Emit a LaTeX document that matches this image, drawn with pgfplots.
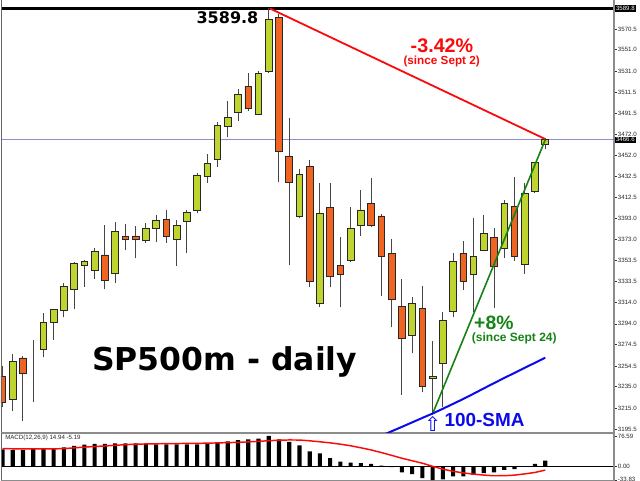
\documentclass[border=0pt]{standalone}
\usepackage{fontspec}
\setmainfont{Liberation Sans}
\newfontfamily\dejavu{DejaVu Sans}
\usepackage{pgfplots}
\usepackage{pgfplotstable}
\pgfplotsset{compat=1.18}

\definecolor{bull}{RGB}{192,212,48}
\definecolor{bear}{RGB}{238,100,32}
\definecolor{edge}{RGB}{40,40,40}
\definecolor{wick}{RGB}{70,70,70}
\definecolor{bidline}{RGB}{140,140,210}
\definecolor{frame}{RGB}{140,140,140}
\definecolor{upred}{RGB}{250,10,10}
\definecolor{upgreen}{RGB}{20,130,20}
\definecolor{smablue}{RGB}{10,10,235}

% daily candles: index, open, high, low, close
\pgfplotstableread{
i o h l c
0 3244.5 3254.8 3216.3 3220.5
1 3223.3 3265.5 3212.6 3258.9
2 3262.0 3263.9 3203.2 3247.7
3 3272.5 3278.9 3221.0 3272.5
4 3270.2 3303.9 3262.7 3295.1
5 3295.1 3308.4 3278.9 3307.9
6 3307.0 3332.0 3300.2 3328.9
7 3326.7 3352.0 3308.2 3350.8
8 3348.9 3353.9 3328.9 3352.3
9 3343.9 3365.4 3336.4 3362.3
10 3358.6 3386.7 3326.4 3334.9
11 3341.4 3389.2 3332.6 3380.4
12 3376.1 3387.7 3363.3 3373.6
13 3376.4 3385.8 3355.5 3373.3
14 3372.0 3388.9 3370.1 3383.9
15 3383.4 3396.1 3370.5 3390.8
16 3392.3 3400.5 3370.1 3376.1
17 3373.6 3391.4 3348.5 3386.4
18 3390.2 3400.8 3360.7 3398.6
19 3400.8 3435.2 3397.7 3433.6
20 3432.0 3453.3 3426.4 3444.6
21 3448.3 3483.3 3441.4 3480.2
22 3478.9 3503.0 3468.9 3487.3
23 3492.4 3514.0 3484.5 3509.3
24 3516.8 3529.0 3493.9 3495.8
25 3490.5 3531.1 3489.5 3529.0
26 3530.8 3589.8 3529.5 3579.9
27 3581.5 3584.6 3427.3 3456.1
28 3450.8 3486.8 3349.2 3426.4
29 3394.5 3438.9 3393.0 3434.5
30 3442.0 3448.1 3328.9 3333.7
31 3313.3 3425.8 3310.1 3397.7
32 3403.3 3425.8 3328.3 3338.9
33 3348.9 3375.7 3309.5 3340.5
34 3353.9 3403.9 3352.0 3383.9
35 3386.7 3419.5 3376.4 3400.8
36 3407.1 3430.5 3384.6 3386.7
37 3395.2 3397.0 3320.1 3357.4
38 3360.2 3373.3 3290.8 3317.0
39 3310.1 3335.8 3227.3 3280.1
40 3283.3 3319.5 3266.4 3313.3
41 3308.2 3329.5 3230.4 3235.1
42 3243.0 3277.9 3209.0 3244.8
43 3257.0 3305.4 3216.3 3297.0
44 3305.6 3360.7 3300.7 3352.7
45 3360.2 3372.0 3325.8 3333.5
46 3340.5 3393.0 3305.1 3357.6
47 3363.3 3396.1 3362.6 3378.9
48 3375.2 3383.6 3308.6 3347.6
49 3364.9 3410.2 3355.5 3407.1
50 3403.9 3431.4 3353.2 3357.6
51 3350.1 3426.4 3340.8 3416.4
52 3418.6 3446.1 3416.4 3445.5
53 3462.7 3468.0 3457.7 3466.6
}\candles

% MACD(12,26,9): main (bars) and signal (line)
\pgfplotstableread{
i m s
0 43.1 44.8
1 41.6 44.5
2 41.6 44.2
3 44.8 44.0
4 44.8 44.0
5 44.8 44.2
6 48.1 45.0
7 51.5 46.8
8 54.8 48.7
9 56.5 50.2
10 56.5 51.5
11 58.0 53.2
12 58.0 54.8
13 58.0 56.0
14 56.5 56.6
15 55.5 57.0
16 55.5 57.3
17 55.5 57.6
18 55.5 57.9
19 55.5 58.1
20 56.5 58.6
21 59.8 59.2
22 63.0 59.9
23 66.5 60.6
24 68.0 61.8
25 69.7 63.1
26 76.59 64.7
27 68.0 66.0
28 61.5 66.6
29 53.0 66.4
30 38.1 64.5
31 33.1 62.0
32 20.8 59.3
33 12.5 56.0
34 10.0 52.0
35 8.3 47.0
36 6.6 41.5
37 2.5 35.0
38 -1.5 28.0
39 -15.0 20.8
40 -19.1 14.5
41 -29.0 8.3
42 -33.83 0.5
43 -32.0 -6.6
44 -24.9 -12.0
45 -24.9 -16.0
46 -20.8 -19.1
47 -16.6 -21.5
48 -15.0 -23.2
49 -8.3 -23.0
50 -6.6 -21.6
51 -0.8 -18.5
52 6.6 -14.9
53 14.94 -9.0
}\macd

\pgfplotsset{
  chartgeom/.style={
    scale only axis, anchor=south west,
    at={(0.75pt,36pt)}, width=459.75pt, height=324pt,
    xmin=-0.1465, xmax=59.717, ymin=3192.6, ymax=3597.7,
  },
  pricelabels/.style={
    xtick=\empty,
    ytick pos=right, yticklabel pos=right,
    tick align=outside, major tick length=2.25pt,
    ytick style={draw=black!80, line width=0.5pt},
    yticklabel style={font=\fontsize{4.6}{5}\selectfont, text=black!85,
      anchor=west, inner sep=0pt, xshift=0.5pt},
  },
}

\begin{document}
\begin{tikzpicture}
\path[use as bounding box] (0,0) rectangle (480pt,360pt);

% price panel: frame, ticks, level lines, wicks
\begin{axis}[chartgeom, pricelabels,
  axis line style={draw=frame, line width=0.75pt},
  ytick={3195.5,3215,3235,3254.5,3274.5,3294,3314,3333.5,3353.5,3373,3393,
         3412.5,3432.5,3452,3472,3491.5,3511.5,3531,3551,3570.5},
  yticklabels={3195.5,3215.0,3235.0,3254.5,3274.5,3294.0,3314.0,3333.5,3353.5,
         3373.0,3393.0,3412.5,3432.5,3452.0,3472.0,3491.5,3511.5,3531.0,3551.0,3570.5},
]
\addplot[bidline, line width=0.9pt] coordinates {(-1,3466.6) (61,3466.6)};
\addplot[black, line width=2.2pt] coordinates {(-1,3589.8) (61,3589.8)};
\addplot[only marks, mark=*, mark size=0pt, mark options={draw=none, fill=none},
  error bars/.cd, y dir=plus, y explicit, error mark=none,
  error bar style={draw=wick, line width=0.75pt}]
  table[x=i, y=l, y error expr=\thisrow{h}-\thisrow{l}] {\candles};
\end{axis}

% candle bodies
\begin{axis}[chartgeom, hide axis, ybar stacked, bar width=0.65]
\addplot[draw=none, fill=none]
  table[x=i, y expr={min(\thisrow{o},\thisrow{c})}] {\candles};
\addplot[fill=bull, draw=edge, line width=0.6pt]
  table[x=i, y expr={ifthenelse(\thisrow{c}>\thisrow{o},\thisrow{c}-\thisrow{o},0)}] {\candles};
\addplot[fill=bear, draw=edge, line width=0.6pt]
  table[x=i, y expr={ifthenelse(\thisrow{o}>\thisrow{c},\thisrow{o}-\thisrow{c},0)}] {\candles};
\end{axis}

% trend lines, SMA and annotations
\begin{axis}[chartgeom, hide axis, clip mode=individual]
\addplot[smablue, line width=1.5pt] coordinates {
  (37,3189.1) (38,3193.3) (39,3197.4) (40,3201.6) (41,3205.8) (42,3209.9)
  (43,3214.4) (44,3219.0) (45,3223.6) (46,3228.5) (47,3233.5) (48,3238.4)
  (49,3243.3) (50,3248.0) (51,3252.8) (52,3257.5) (53,3262.3)};
\addplot[upred, line width=1.35pt] coordinates {(26.1,3589.8) (53,3467.3)};
\addplot[upgreen, line width=1.2pt] coordinates {(42.07,3211.3) (53,3466.6)};

\draw[frame, line width=1.1pt] (rel axis cs:1,0) -- (rel axis cs:1,1);
\draw[black!60, line width=0.75pt] (rel axis cs:0,0) -- (rel axis cs:0,1);

\node[anchor=base, font=\dejavu\bfseries\fontsize{12}{12}\selectfont]
  at (axis cs:21.97,3575.2) {3589.8};
\node[anchor=base, text=upred, font=\bfseries\fontsize{14.8}{15}\selectfont]
  at (axis cs:42.92,3548.7) {-3.42\%};
\node[anchor=base, text=upred, font=\bfseries\fontsize{8.8}{9}\selectfont]
  at (axis cs:42.89,3537.2) {(since Sept 2)};
\node[anchor=base west, inner sep=0pt, text=upgreen, font=\bfseries\fontsize{14.5}{15}\selectfont]
  at (axis cs:46.04,3288.9) {+8\%};
\node[anchor=base west, inner sep=0pt, text=upgreen, font=\bfseries\fontsize{9}{9}\selectfont]
  at (axis cs:45.82,3277.0) {(since Sept 24)};
\node[anchor=base west, inner sep=0pt, font=\dejavu\bfseries\fontsize{23.6}{24}\selectfont]
  at (axis cs:8.74,3250.4) {SP500m - daily};
\node[anchor=base west, inner sep=0pt, text=smablue, font=\bfseries\fontsize{14.2}{14}\selectfont]
  at (axis cs:43.14,3197.6) {100-SMA};
\node[anchor=base, inner sep=0pt, text=smablue, font=\dejavu\fontsize{15}{15}\selectfont]
  at (axis cs:42.01,3193.2) {⇧};

\node[anchor=west, fill=black, text=white, inner sep=0.7pt, xshift=0.6pt,
  font=\fontsize{4.6}{5}\selectfont] at (axis cs:59.717,3589.8) {3589.8};
\node[anchor=west, fill=black, text=white, inner sep=0.7pt, xshift=0.6pt,
  font=\fontsize{4.6}{5}\selectfont] at (axis cs:59.717,3466.6) {3466.6};
\end{axis}

% MACD panel
\begin{axis}[scale only axis, anchor=south west,
  at={(0.75pt,0pt)}, width=459.75pt, height=35.25pt,
  xmin=-0.1465, xmax=59.717, ymin=-33.83, ymax=84.06,
  pricelabels, clip mode=individual,
  axis line style={draw=frame, line width=0.75pt},
  ytick={-33.83,0,76.59}, yticklabels={\raisebox{1.6pt}{-33.83},0.00,76.59},
]
\addplot[black, line width=0.75pt] coordinates {(-1,0) (61,0)};
\addplot[ybar, bar width=0.4, fill=black, draw=none] table[x=i, y=m] {\macd};
\addplot[upred, line width=1.1pt] table[x=i, y=s] {\macd};
\draw[frame, line width=1.1pt] (rel axis cs:1,0) -- (rel axis cs:1,1);
\draw[black!60, line width=0.75pt] (rel axis cs:0,0) -- (rel axis cs:0,1);
\node[anchor=north west, inner sep=0pt, xshift=3pt, yshift=-1.6pt, text=black!85,
  font=\fontsize{4.6}{5}\selectfont] at (rel axis cs:0,1) {MACD(12,26,9) 14.94 -5.19};
\end{axis}
\end{tikzpicture}
\end{document}
